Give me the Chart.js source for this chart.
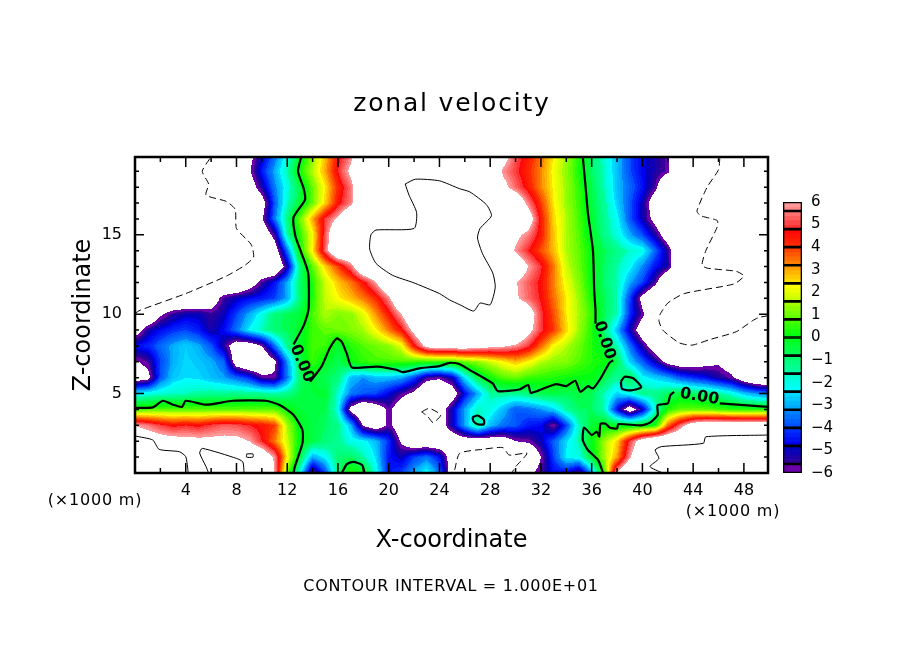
<!DOCTYPE html>
<html>
<head>
<meta charset="utf-8">
<style>
  body { margin: 0; background: #fff; }
  #wrap { position: relative; width: 904px; height: 654px; }
  #plot { position: absolute; left: 0; top: 0; }
  #bar  { position: absolute; left: 770px; top: 184px; }
</style>
<script src="https://cdn.jsdelivr.net/npm/chart.js@4/dist/chart.umd.min.js"></script>
</head>
<body>
<div id="wrap">
  <canvas id="plot" width="904" height="654"></canvas>
  <canvas id="bar" width="134" height="307"></canvas>
</div>
<script>
// ----- Tick labels -----
const xTicks = [4, 8, 12, 16, 20, 24, 28, 32, 36, 40, 44, 48];
const zTicks = [5, 10, 15];
const barTicks = [6, 5, 4, 3, 2, 1, 0, -1, -2, -3, -4, -5, -6];
const barEdges = [6, 5.6, 4.8, 4, 3.2, 2.4, 1.6, 0.8, 0, -0.8, -1.6, -2.4, -3.2, -4, -4.8, -5.6, -6];

// ----- Zonal velocity, one row per km of height, x = 0..50 km (beyond +-6 is left white) -----
const uZ00 = [8,8,8,8,8,8,8,8,8,8, 8,6,1,-2,-6,-4,-1,0.5,0,-2, -4.5,-4,-3,-2,-3.5,-7,-8,-8,-8,-8, -8,-6.3,-5.5,-4.6,-4.6,-5.8,-3,0.6,6.3,8, 8,8,8,8,8,8,8,8,8,8, 8];
const uZ01 = [8,8,8,8,8,8,8,8,8,8, 7.5,5.8,2.3,-0.5,-3,-2.2,-1,-0.8,-1.5,-2.5, -4.5,-5,-4,-3.5,-4.5,-7,-8,-8,-8,-8, -8,-8,-6,-4,-2.3,-2,-0.3,1.5,3,5.8, 8,8,8,8,8,8,8,8,8,8, 8];
const uZ02 = [7,7,6.8,6.6,6.5,6.4,6.4,6.4,6.4,6, 4.8,3.4,1.8,0,-0.5,-1,-1.3,-2,-2.2,-2.8, -4.2,-6.2,-7.5,-7.5,-7.5,-7.5,-7,-7,-7,-7, -6,-5.8,-5,-3.7,-2.5,-1.5,0.1,1.4,2.6,5, 7,8,8,8,8,8,8,8,8,8, 8];
const uZ03 = [6,5.6,5,4.6,4.8,4.6,5,5.3,5.2,4.8, 4.5,4,1.5,-0.1,-0.5,-0.8,-1.2,-2.8,-6.2,-7, -5.7,-7,-8,-8,-7,-5,-3,-1.3,-2.8,-3.5, -3.8,-4.4,-4.6,-6,-4,-1.6,-0.3,0,-0.1,-0.2, -0.1,0.2,3.5,5.5,7,7.5,7.5,7.5,7.5,7.5, 7.5];
const uZ04 = [0.7,0.8,0.9,0.9,0.9,0.9,0.9,0.9,0.9,0.9, 0.9,0.9,0.2,-0.4,-0.5,-0.6,-2,-6.5,-8,-7, -5.7,-7,-8,-8,-7,-5,-3,-1.6,-2,-2.8, -3.8,-3.6,-3.2,-2.6,-1.4,-0.8,-0.8,-1.6,-4.6,-7, -5,-1.8,0.4,0.9,1,0.9,0.7,0.5,0.4,0.4, 0.4];
const uZ05 = [-2.3,-2,-1.8,-1.7,-1.6,-1.4,-1.3,-1.3,-1.2,-1.3, -1.3,-1.5,-1.2,-0.6,-0.4,-0.3,-1.8,-3.4,-3.8,-4, -4.7,-5.6,-6.3,-8,-8,-7,-4.6,-3,-1.4,-1.3, -1.3,-1,-0.6,-0.5,-0.7,-0.5,-0.7,-1.6,-2.6,-2, -1.2,-1.2,-0.8,-0.4,-0.8,-1,-1.4,-1.9,-2.7,-3.2, -3.5];
const uZ06 = [-7,-6.5,-3.8,-2.7,-2.4,-2.5,-2.8,-3.1,-3.6,-4.2, -5.6,-5.8,-3.5,-0.9,-0.3,-0.7,-1,-2.8,-3.2,-2.8, -2.8,-3,-4,-5.5,-5.8,-5,-2.4,-0.6,0.2,0.8, 1,0.6,0.5,0.4,0.2,0.1,0.1,-0.6,-1.4,-0.6, -2.2,-2.6,-3,-3.8,-4.2,-4.6,-5.2,-5.7,-7,-8, -8];
const uZ07 = [-6.2,-5.6,-4,-3,-2.5,-2.7,-3,-3.6,-7,-8, -8,-6.3,-3.2,-0.6,0.6,-0.1,-0.7,0.1,0.5,0.7, 0.7,0.7,0.6,0.5,0.5,0.5,1,1.3,1.8,2.3, 2.8,2.3,1.6,1.3,1.2,0.8,0.4,0.2,-0.6,-2.6, -3.7,-5,-6.5,-7,-7,-6.5,-6.2,-7,-8,-8, -8];
const uZ08 = [-4.5,-4.3,-3.6,-3,-2.6,-3,-3.8,-5.3,-7,-7, -6,-3.5,-1.2,-0.2,0.7,0.6,-0.3,0.4,0.8,1, 1.3,2,4.5,6.5,7,7,7,6.7,6.4,6.2, 5.8,5,3.6,2.2,1.6,1,0.4,-0.4,-1.6,-3.5, -5.3,-7,-8,-8,-8,-8,-8,-8,-8,-8, -8];
const uZ09 = [-7,-5.2,-4.6,-4.2,-4,-4.4,-5.2,-4.6,-3.5,-2.3, -1.6,-0.9,-0.7,-0.2,0.6,0.9,1,1.2,1.5,2.3, 3.4,4.5,6.5,8,8,8,8,8,8,8, 8,6.5,5,4,2.6,1.4,0.4,-1,-2.8,-5, -7,-8,-8,-8,-8,-8,-8,-8,-8,-8, -8];
const uZ10 = [-8,-8,-6.2,-5.4,-5,-5,-5.5,-5,-4,-3, -2,-1,-0.7,-0.4,0.7,1.6,1.2,1.3,2,3.2, 4.4,6,8,8,8,8,8,8,8,8, 8,7,5,3.8,2.4,1.5,0.6,-0.7,-1.6,-4.2, -5.7,-8,-8,-8,-8,-8,-8,-8,-8,-8, -8];
const uZ11 = [-8,-8,-8,-8,-8,-8,-7,-5.5,-5,-4.6, -4.4,-4,-3,-1,0.4,1.7,2.3,2.8,3.4,4.2, 5.7,8,8,8,8,8,8,8,8,7, 6.2,5.4,4.7,3.5,2.4,1.4,0.3,-0.7,-1.6,-4, -6.5,-8,-8,-8,-8,-8,-8,-8,-8,-8, -8];
const uZ12 = [-8,-8,-8,-8,-8,-8,-8,-8,-8,-7, -5.5,-4.5,-3,-0.9,0.4,1.8,2.7,3.4,4.5,6, 8,8,8,8,8,8,8,8,8,7, 6.1,5.3,4.6,3.3,2.1,1.2,0.1,-0.9,-1.6,-3, -4,-5.6,-8,-8,-8,-8,-8,-8,-8,-8, -8];
const uZ13 = [-8,-8,-8,-8,-8,-8,-8,-8,-8,-8, -8,-8,-5.2,-1,0.9,2.6,3.9,5.4,8,8, 8,8,8,8,8,8,8,8,8,8, 7.5,6,4.9,3.4,1.8,1,0.1,-0.8,-1.5,-2.2, -3.3,-4.5,-5.2,-8,-8,-8,-8,-8,-8,-8, -8];
const uZ14 = [-8,-8,-8,-8,-8,-8,-8,-8,-8,-8, -8,-7,-3.5,0.2,2.4,5.4,8,8,8,8, 8,8,8,8,8,8,8,8,8,7.5, 5.8,4.8,3.8,2.8,1.6,0.9,0.1,-0.7,-1.2,-1.7, -2,-3.6,-5.3,-8,-8,-8,-8,-8,-8,-8, -8];
const uZ15 = [-8,-8,-8,-8,-8,-8,-8,-8,-8,-8, -7.5,-5.5,-1.4,0.5,2.2,5.2,8,8,8,8, 8,8,8,8,8,8,8,8,8,8, 6.4,5.6,4.4,2.7,1.6,0.8,-0.2,-1.2,-1.9,-3, -3.9,-5.2,-7,-8,-8,-8,-8,-8,-8,-8, -8];
const uZ16 = [-8,-8,-8,-8,-8,-8,-8,-8,-8,-8, -6.2,-3.5,-1.1,1,3,5,6.2,8,8,8, 8,8,8,8,8,8,8,8,8,8, 8,7,4.4,2.6,1.6,0.7,-0.3,-1.3,-2.2,-3.8, -5,-6.5,-8,-8,-8,-8,-8,-8,-8,-8, -8];
const uZ17 = [-8,-8,-8,-8,-8,-8,-8,-8,-8,-8, -6.8,-3.8,-1.7,-0.4,1,2.6,4.5,5.6,8,8, 8,8,8,8,8,8,8,8,8,8, 7.5,5.6,4,2.4,1.4,0.6,-0.5,-1.4,-2.6,-3.8, -5,-7,-8,-8,-8,-8,-8,-8,-8,-8, -8];
const uZ18 = [-8,-8,-8,-8,-8,-8,-8,-8,-8,-7, -5.2,-3.4,-2,-0.5,1,2.4,4.2,5.5,8,8, 8,8,8,8,8,8,8,8,8,6.5, 5.4,4.4,3.3,2.3,1.4,0.5,-0.6,-1.6,-2.8,-3.6, -4.5,-5.6,-8,-8,-8,-8,-8,-8,-8,-8, -8];
const uZ19 = [-8,-8,-8,-8,-8,-8,-8,-8,-8,-6.2, -4.4,-3,-1.5,0.3,1.6,3,4.8,6.3,8,8, 8,8,8,8,8,8,8,8,8,5.8, 5,4.2,3.3,2.2,1.3,0.3,-0.8,-1.7,-2.8,-3.9, -4.7,-5.2,-5.7,-8,-8,-8,-8,-8,-8,-8, -8];
const uZ20 = [-8,-8,-8,-8,-8,-8,-8,-8,-8,-6.5, -5,-3.6,-2,-0.2,1.2,2.8,4.5,5.6,8,8, 8,8,8,8,8,8,8,8,8,6.8, 5.2,4.4,3.5,2.4,1.4,0.4,-0.8,-1.8,-2.8,-3.9, -4.7,-5.2,-5.7,-8,-8,-8,-8,-8,-8,-8, -8];
const uRows = [uZ00,uZ01,uZ02,uZ03,uZ04,uZ05,uZ06,uZ07,uZ08,uZ09,uZ10,uZ11,uZ12,uZ13,uZ14,uZ15,uZ16,uZ17,uZ18,uZ19,uZ20];

// ----- Contour lines [x km, z km] -----
const zeroLeft = [[13.1,19.9],[12.85,19],[13.3,17.9],[13.4,17.2],[12.5,16.1],[12.65,14.9],[13.1,13.9],[13.65,12.6],[13.7,10.5],[13.6,10],[13.25,9.2],[12.5,8.1]];
const zeroMid = [[13.8,5.75],[14.7,6.7],[15.35,7.85],[15.9,8.47],[16.3,8.26],[16.7,7.5],[17.1,6.65],[19.1,6.7],[20.6,6.5],[21.1,6.35],[22.5,6.6],[24,6.73],[24.8,6.94],[25.6,6.85],[26.4,6.48],[28.2,5.64],[28.6,5.16],[30.3,5.26],[31,5.54],[31.2,5.05],[32.2,5.32],[33.2,5.6],[34,5.47],[34.7,5.81],[35.1,5.11],[35.7,5.47],[36.1,5.32],[36.7,5.95],[37.4,6.94],[37.7,7.1]];
const zeroRight = [[35.3,19.9],[35.5,18.2],[35.7,16.4],[36.1,14],[36.2,11.5],[36.3,10.25],[36.3,9.4]];
const zeroLow = [[0,4.1],[1.4,4.13],[2.2,4.55],[3,4.3],[3.7,4.16],[4,4.55],[5.6,4.3],[7.7,4.55],[10.3,4.55],[11.4,4.28],[12.5,3.65],[13.2,2.7],[13.2,1.87],[12.6,0.4],[12.5,0]];
const zeroRing = [[16.3,0],[16.7,0.56],[17.2,0.7],[17.9,0.5],[18.1,0]];
const zeroEast = [[36.9,0],[36.5,0.82],[35.7,1.45],[35.3,2.07],[35.4,2.87],[36,2.39],[36.4,2.6],[36.6,2.3],[36.7,3.1],[37.1,3.1],[37.4,2.87],[38,2.8],[38.1,3.08],[39.9,3],[40.6,3.17],[41.2,3.65],[41.2,4.27],[42,4.38],[42.2,4.9],[42.5,5.11]];
const zeroEastEnd = [[46.1,4.38],[49.9,4.17]];
const zeroIsleA = [[38.3,5.75],[38.6,6.06],[39.3,5.95],[39.9,5.4],[39.1,5.2],[38.4,5.3],[38.3,5.75]];
const zeroIsleB = [[26.6,3.5],[27,3.62],[27.5,3.36],[27.5,3.07],[27,3.07],[26.7,3.23],[26.6,3.5]];
const plusLowA = [[0,2.33],[1.4,2.08],[1.9,1.49],[3.5,1.34],[4,1.03],[4.2,0]];
const plusLowB = [[5.8,0],[5.6,0.4],[5.1,1.25],[5.3,1.55],[8,0.92],[8.5,0.7],[8.6,0]];
const plusSquare = [[8.8,1.2],[9.3,1.2],[9.3,1],[8.8,1],[8.8,1.2]];
const plusLowC = [[49.9,2.39],[45,2.28],[44.8,1.87],[41.5,1.66],[41,1.45],[41.3,0.92],[40.6,0.4],[41.6,0]];
const plusTop = [[21.3,18.2],[22.1,18.5],[24,18.4],[25.6,17.9],[26.4,17.7],[27.7,16.9],[28.1,16.2],[27.2,15.4],[27,14.8],[27.4,13.8],[28.2,12.6],[28.4,11.7],[28,10.6],[27.2,10.7],[26.7,10.2],[25.6,10.6],[24.8,10.9],[24,11.3],[21.9,12],[20.3,12.45],[19,13.2],[18.5,14.1],[18.6,15],[19,15.3],[22,15.4],[22.2,16.4],[21.6,17.5],[21.3,18.2]];
const minusWest = [[0,10.05],[0.4,10.25],[4,11.3],[7.2,12.4],[8.7,13.1],[9.35,13.6],[9.15,14.4],[8,15.4],[7.9,16.6],[7.2,17.1],[5.6,17.5],[5.8,18.2],[5.3,19],[5.9,19.8]];
const minusEast = [[46.1,19.8],[46,19.1],[45.1,18],[44.3,16.5],[44.6,16.2],[45.9,15.9],[45.9,15.5],[45,14],[44.7,13.1],[45.1,12.9],[47.4,12.7],[48,12.4],[47.2,11.9],[43.3,11.3],[42,10.7],[41.4,10],[41.3,9.6],[41.6,9],[42.9,8.2],[43.9,8.05],[45.3,8.4],[47.4,8.9],[48.7,9.6],[49.2,9.8],[49.9,9.9]];
const minusBlob = [[22.6,3.85],[23.2,4.07],[24.1,3.65],[23.5,3.17],[23.1,3.54],[22.6,3.85]];
const minusLow = [[25.2,0.2],[25.6,1.24],[27.4,1.49],[29,1.6],[29.5,1.13],[30.9,1.24],[30,0.39],[29.7,0]];

const thickLines = [zeroLeft, zeroMid, zeroRight, zeroLow, zeroRing, zeroEast, zeroEastEnd, zeroIsleA, zeroIsleB];
const thinLines = [plusLowA, plusLowB, plusSquare, plusLowC, plusTop];
const dashLines = [minusWest, minusEast, minusBlob, minusLow];

// ----- Colour ramp, start and end shade of each colour bar box -----
const boxStart = ["#ff9999","#ff7070","#ff0808","#ff4400","#ffa000","#ffff00","#a0ff00","#40ff00","#00ff20","#00ff70","#00ffd0","#00d8ff","#0080ff","#0030ff","#0000c0","#6a00a8"];
const boxEnd   = ["#ff8888","#ff3333","#ff2a00","#ff8000","#ffdd00","#c8ff00","#60ff00","#00ff10","#00ff50","#00ffa0","#00ffff","#00a8ff","#0050ff","#0000f0","#300098","#6a00a8"];

const FONT = '"DejaVu Sans"';

function hexRgb(h) { return [1, 3, 5].map(i => parseInt(h.substr(i, 2), 16)); }

// band colour for a value, null when it is out of the colour bar
function bandRgb(v) {
  if (!(v <= 6 && v >= -6)) return null;
  for (let b = 0; b < boxStart.length; b++) {
    const hi = barEdges[b], lo = barEdges[b + 1];
    if (v >= lo) {
      const n = Math.max(1, Math.round((hi - lo) / 0.2));
      const k = Math.min(n - 1, Math.floor((hi - v) / 0.2));
      const t = n > 1 ? k / (n - 1) : 0;
      const s = hexRgb(boxStart[b]), e = hexRgb(boxEnd[b]);
      return s.map((c, i) => Math.round(c + (e[i] - c) * t));
    }
  }
  return null;
}

// ----- Filled contours: the grid goes through the chart's own scales -----
const contourFill = {
  id: "contourFill",
  beforeDatasetsDraw(chart) {
    const { ctx, chartArea: a, scales: { x, y } } = chart;
    const w = Math.round(a.right - a.left), h = Math.round(a.bottom - a.top);
    const img = ctx.createImageData(w, h);
    for (let j = 0; j < h; j++) {
      const zv = y.getValueForPixel(a.top + j + 0.5);
      const r = Math.min(19, Math.max(0, Math.floor(zv))), fz = zv - r;
      for (let i = 0; i < w; i++) {
        const xv = x.getValueForPixel(a.left + i + 0.5);
        const c = Math.min(49, Math.max(0, Math.floor(xv))), fx = xv - c;
        const lo = uRows[r][c] * (1 - fx) + uRows[r][c + 1] * fx;
        const hi = uRows[r + 1][c] * (1 - fx) + uRows[r + 1][c + 1] * fx;
        const rgb = bandRgb(lo * (1 - fz) + hi * fz);
        const p = (j * w + i) * 4;
        img.data[p] = rgb ? rgb[0] : 255;
        img.data[p + 1] = rgb ? rgb[1] : 255;
        img.data[p + 2] = rgb ? rgb[2] : 255;
        img.data[p + 3] = 255;
      }
    }
    ctx.putImageData(img, Math.round(a.left), Math.round(a.top));
  }
};

// ----- Frame, inward ticks and the loose text -----
const frameAndText = {
  id: "frameAndText",
  afterDatasetsDraw(chart) {
    const { ctx, chartArea: a, scales: { x, y } } = chart;
    ctx.save();
    ctx.strokeStyle = "#000";
    ctx.lineWidth = 2.5;
    ctx.strokeRect(a.left, a.top, a.right - a.left, a.bottom - a.top);
    ctx.lineWidth = 1.5;
    ctx.beginPath();
    for (let v = 2; v <= 48; v += 2) {
      const len = v % 4 === 0 ? 10 : 5, px = x.getPixelForValue(v);
      ctx.moveTo(px, a.bottom); ctx.lineTo(px, a.bottom - len);
      ctx.moveTo(px, a.top);    ctx.lineTo(px, a.top + len);
    }
    for (let v = 1; v <= 19; v++) {
      const len = v % 5 === 0 ? 9 : 4, py = y.getPixelForValue(v);
      ctx.moveTo(a.left, py);  ctx.lineTo(a.left + len, py);
      ctx.moveTo(a.right, py); ctx.lineTo(a.right - len, py);
    }
    ctx.stroke();

    ctx.fillStyle = "#000";
    ctx.textAlign = "center";
    ctx.textBaseline = "middle";
    ctx.font = "25px " + FONT;
    ctx.letterSpacing = "1.8px";
    ctx.fillText("zonal velocity", 452, 104);
    ctx.font = "16px " + FONT;
    ctx.letterSpacing = "0.8px";
    ctx.fillText("(×1000 m)", 95, 501);
    ctx.fillText("(×1000 m)", 733, 512);
    ctx.letterSpacing = "0.7px";
    ctx.fillText("CONTOUR INTERVAL = 1.000E+01", 451, 587);
    ctx.letterSpacing = "0px";

    // contour labels along the zero line
    ctx.font = "bold 16px " + FONT;
    [[13.15, 6.9, 67], [37, 8.36, 72], [44.5, 4.8, 10]].forEach(([lx, lz, deg]) => {
      ctx.save();
      ctx.translate(x.getPixelForValue(lx), y.getPixelForValue(lz));
      ctx.rotate(deg * Math.PI / 180);
      ctx.fillText("0.00", 0, 0);
      ctx.restore();
    });
    ctx.restore();
  }
};

function lineSet(points, width, dash) {
  return {
    data: points.map(p => ({ x: p[0], y: p[1] })),
    showLine: true, pointRadius: 0, tension: 0.2,
    borderColor: "#000", borderWidth: width, borderDash: dash,
  };
}

new Chart(document.getElementById("plot"), {
  type: "scatter",
  data: {
    datasets: [
      ...thickLines.map(l => lineSet(l, 2.2, [])),
      ...thinLines.map(l => lineSet(l, 1, [])),
      ...dashLines.map(l => lineSet(l, 1, [7, 4])),
    ],
  },
  plugins: [contourFill, frameAndText],
  options: {
    responsive: false,
    animation: false,
    layout: { padding: { top: 157, right: 136 } },
    plugins: {
      legend: { display: false },
      tooltip: { enabled: false },
    },
    scales: {
      x: {
        type: "linear", min: 0, max: 49.9,
        afterBuildTicks: s => { s.ticks = xTicks.map(v => ({ value: v })); },
        afterFit: s => { s.height = 181; },
        grid: { display: false, drawTicks: false },
        border: { display: false },
        ticks: { color: "#000", font: { family: FONT, size: 16 }, padding: 8, maxRotation: 0, autoSkip: false },
        title: {
          display: true, text: "X-coordinate", color: "#000",
          font: { family: FONT, size: 24 }, padding: { top: 0, bottom: 99 },
        },
      },
      y: {
        type: "linear", min: 0, max: 19.9,
        afterBuildTicks: s => { s.ticks = zTicks.map(v => ({ value: v })); },
        afterFit: s => { s.width = 135; },
        grid: { display: false, drawTicks: false },
        border: { display: false },
        ticks: { color: "#000", font: { family: FONT, size: 16 }, padding: 13 },
        title: {
          display: true, text: "Z-coordinate", color: "#000",
          font: { family: FONT, size: 24 }, padding: { top: 69, bottom: 0 },
        },
      },
    },
  },
});

// ----- Colour bar -----
const shadeSets = [];
boxStart.forEach((s, b) => {
  const hi = barEdges[b], lo = barEdges[b + 1];
  const n = Math.max(1, Math.round((hi - lo) / 0.2));
  for (let k = 0; k < n; k++) {
    const rgb = bandRgb(hi - (k + 0.5) * (hi - lo) / n);
    shadeSets.push({
      data: [[hi - (k + 1) * (hi - lo) / n, hi - k * (hi - lo) / n]],
      backgroundColor: `rgb(${rgb.join(",")})`, borderWidth: 0,
      barPercentage: 1, categoryPercentage: 1,
    });
  }
});
const boxSets = boxStart.map((s, b) => ({
  data: [[barEdges[b + 1], barEdges[b]]],
  backgroundColor: "rgba(0,0,0,0)", borderColor: "#000", borderWidth: 1, borderSkipped: false,
  barPercentage: 1, categoryPercentage: 1,
}));

new Chart(document.getElementById("bar"), {
  type: "bar",
  data: { labels: ["u"], datasets: [...boxSets, ...shadeSets] },
  options: {
    responsive: false,
    animation: false,
    layout: { padding: { left: 13, top: 7, bottom: 16, right: 0 } },
    plugins: { legend: { display: false }, tooltip: { enabled: false } },
    scales: {
      x: { stacked: true, display: false },
      y: {
        position: "right", min: -6, max: 6,
        afterBuildTicks: s => { s.ticks = barTicks.map(v => ({ value: v })); },
        afterFit: s => { s.width = 102; },
        grid: { display: false, drawTicks: false },
        border: { display: false },
        ticks: {
          color: "#000", font: { family: FONT, size: 15 }, padding: 9,
          callback: v => String(v).replace("-", "\u2212"),
        },
      },
    },
  },
});
</script>
</body>
</html>
